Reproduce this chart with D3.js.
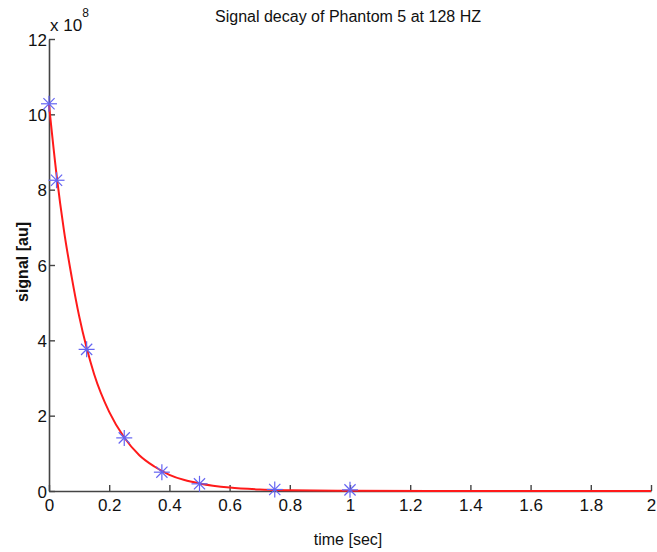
<!DOCTYPE html>
<html>
<head>
<meta charset="utf-8">
<script src="https://cdn.jsdelivr.net/npm/d3@7"></script>
<style>
  body { margin: 0; background: #fff; }
  text { font-family: "Liberation Sans", Arial, sans-serif; fill: #111; }
</style>
</head>
<body>
<div id="chart"></div>
<script>
// mesures (étoiles bleues)
const sampleTimes = [0, 0.025, 0.125, 0.25, 0.375, 0.5, 0.75, 1.0];
const sampleSignal = [10.28, 8.25, 3.76, 1.41, 0.5, 0.19, 0.04, 0.03]; // x 10^8

// courbe d'ajustement (rouge)
const fitTimes = [0, 0.025, 0.05, 0.075, 0.1, 0.125, 0.15, 0.2, 0.25, 0.3, 0.35, 0.4, 0.45, 0.5, 0.6, 0.7, 0.8, 1.0, 1.5, 2.0];
const fitSignal = [10.25, 8.4, 6.9, 5.7, 4.65, 3.8, 3.1, 2.1, 1.42, 0.95, 0.65, 0.43, 0.29, 0.2, 0.09, 0.04, 0.02, 0.005, 0, 0];

const xTicks = [0, 0.2, 0.4, 0.6, 0.8, 1, 1.2, 1.4, 1.6, 1.8, 2];
const yTicks = [0, 2, 4, 6, 8, 10, 12];

const W = 657, H = 552;
const margin = { top: 39, right: 6, bottom: 61, left: 49 };
const width = W - margin.left - margin.right;
const height = H - margin.top - margin.bottom;

const root = d3.select('#chart').append('svg')
    .attr('width', W)
    .attr('height', H);

const svg = root.append('g')
    .attr('transform', `translate(${margin.left},${margin.top})`);

const x = d3.scaleLinear().domain([0, 2]).range([0, width]);
const y = d3.scaleLinear().domain([0, 12]).range([height, 0]);

// Axes (ticks vers l'intérieur, style MATLAB)
const xAxis = svg.append('g')
    .attr('transform', `translate(0,${height})`)
    .call(d3.axisBottom(x).tickValues(xTicks).tickFormat(d3.format('~g'))
        .tickSizeInner(-6).tickSizeOuter(0).tickPadding(6));
const yAxis = svg.append('g')
    .call(d3.axisLeft(y).tickValues(yTicks).tickFormat(d3.format('d'))
        .tickSizeInner(-6).tickSizeOuter(0).tickPadding(2));

[xAxis, yAxis].forEach(a => {
    a.select('.domain').attr('stroke', '#444').attr('stroke-width', 1.6);
    a.selectAll('.tick line').attr('stroke', '#444').attr('stroke-width', 1.4);
    a.selectAll('.tick text').style('font-size', '17px').attr('fill', '#111');
});
xAxis.selectAll('.tick text').attr('dy', '0.8em');
yAxis.selectAll('.tick text').attr('dy', '0.36em');

// Exposant
const expo = svg.append('text')
    .attr('x', 1)
    .attr('y', -8)
    .style('font-size', '17px');
expo.append('tspan').text('x 10');
expo.append('tspan').attr('dy', -14).style('font-size', '12px').text('8');

// Courbe
const line = d3.line()
    .x((d, i) => x(fitTimes[i]))
    .y(d => y(d))
    .curve(d3.curveMonotoneX);

svg.append('path')
    .datum(fitSignal)
    .attr('fill', 'none')
    .attr('stroke', '#ff1a1a')
    .attr('stroke-width', 2)
    .attr('d', line);

// Étoiles
const r = 8;
const stars = svg.append('g')
    .selectAll('g')
    .data(sampleSignal)
    .join('g')
    .attr('transform', (d, i) => `translate(${x(sampleTimes[i])},${y(d)})`);
[[-r, 0, r, 0], [0, -r, 0, r], [-r * 0.7, -r * 0.7, r * 0.7, r * 0.7], [-r * 0.7, r * 0.7, r * 0.7, -r * 0.7]].forEach(s => {
    stars.append('line')
        .attr('x1', s[0]).attr('y1', s[1]).attr('x2', s[2]).attr('y2', s[3])
        .attr('stroke', '#6464f2')
        .attr('stroke-width', 1.2);
});

// Titres
root.append('text')
    .attr('x', 348)
    .attr('y', 22)
    .attr('text-anchor', 'middle')
    .style('font-size', '16px')
    .text('Signal decay of Phantom 5 at 128 HZ');

root.append('text')
    .attr('x', 348)
    .attr('y', 545)
    .attr('text-anchor', 'middle')
    .style('font-size', '16px')
    .text('time [sec]');

root.append('text')
    .attr('transform', 'translate(28,262) rotate(-90)')
    .attr('text-anchor', 'middle')
    .style('font-size', '16px')
    .style('font-weight', '700')
    .text('signal [au]');
</script>
</body>
</html>
